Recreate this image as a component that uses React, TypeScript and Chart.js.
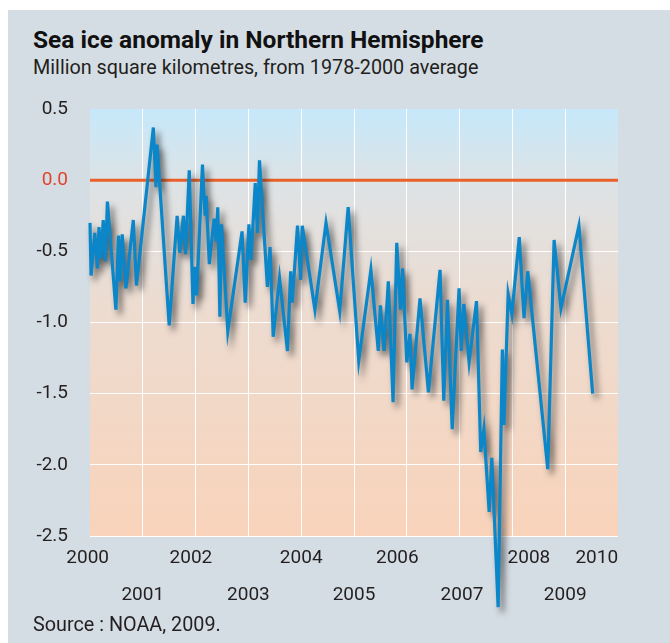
import React, { useEffect, useRef } from 'react';
import { Chart, registerables } from 'chart.js';

Chart.register(...registerables);

// Time of each reading, in decimal years
const years = [
  2000.0, 2000.02, 2000.09, 2000.14, 2000.17, 2000.21, 2000.25, 2000.29, 2000.33, 2000.49,
  2000.54, 2000.57, 2000.61, 2000.68, 2000.82, 2000.88, 2001.2, 2001.25, 2001.27, 2001.5,
  2001.65, 2001.7, 2001.77, 2001.81, 2001.88, 2001.95, 2001.98, 2002.02, 2002.13, 2002.18,
  2002.2, 2002.26, 2002.35, 2002.39, 2002.42, 2002.46, 2002.49, 2002.61, 2002.88, 2002.94,
  2003.01, 2003.05, 2003.13, 2003.17, 2003.21, 2003.36, 2003.41, 2003.47, 2003.59, 2003.74,
  2003.8, 2003.83, 2003.93, 2003.99, 2004.02, 2004.26, 2004.47, 2004.73, 2004.89, 2005.09,
  2005.32, 2005.46, 2005.5, 2005.57, 2005.65, 2005.74, 2005.81, 2005.88, 2005.92, 2006.0,
  2006.06, 2006.1, 2006.25, 2006.41, 2006.63, 2006.7, 2006.77, 2006.86, 2006.99, 2007.03,
  2007.08, 2007.18, 2007.32, 2007.4, 2007.46, 2007.56, 2007.61, 2007.73, 2007.81, 2007.84,
  2007.92, 2007.99, 2008.13, 2008.22, 2008.29, 2008.67, 2008.79, 2008.92, 2009.26, 2009.52,
];

// Sea ice anomaly, million km², vs 1978-2000 average
const anomaly = [
  -0.3, -0.67, -0.37, -0.62, -0.33, -0.55, -0.28, -0.57, -0.15, -0.91,
  -0.39, -0.71, -0.38, -0.76, -0.28, -0.74, 0.37, -0.05, 0.25, -1.02,
  -0.25, -0.51, -0.25, -0.52, 0.07, -0.87, -0.61, -0.81, 0.11, -0.25,
  -0.11, -0.59, -0.27, -0.43, -0.19, -0.96, -0.31, -1.06, -0.36, -0.86,
  -0.31, -0.56, -0.02, -0.37, 0.14, -0.75, -0.47, -1.1, -0.69, -1.2,
  -0.64, -0.86, -0.32, -0.7, -0.32, -0.91, -0.3, -0.92, -0.19, -1.27,
  -0.63, -1.2, -0.88, -1.2, -0.71, -1.56, -0.44, -0.91, -0.62, -1.28,
  -1.08, -1.47, -0.83, -1.49, -0.63, -1.55, -0.84, -1.75, -0.76, -1.2,
  -0.87, -1.28, -0.85, -1.91, -1.75, -2.33, -1.95, -3.0, -1.19, -1.72,
  -0.8, -0.94, -0.4, -0.97, -0.64, -2.03, -0.42, -0.9, -0.32, -1.5,
];

// Reference (1978-2000 average) line
const referenceYears = [2000, 2010];
const referenceValues = [0, 0];

// Axis ranges / ticks
const xRange = [2000, 2010];
const yRange = [-2.5, 0.5];
const yStep = 0.5;

const FONT = 'Roboto, "Noto Sans", "DejaVu Sans", sans-serif';
const BLUE = '#0a86c9';
const ORANGE = '#e8602a';
const TEXT = '#231f20';

// Leading / trailing spaces used to nudge some year labels sideways (layout only)
const labelNudge: Record<number, [number, number]> = {
  2000: [0, 1],
  2002: [0, 2],
  2006: [0, 4],
  2007: [1, 0],
  2008: [7, 0],
  2010: [0, 9],
};

export default function App() {
  const canvasRef = useRef<HTMLCanvasElement>(null);

  useEffect(() => {
    const canvas = canvasRef.current;
    if (!canvas) return;

    const plotBackground = {
      id: 'plotBackground',
      beforeDraw(chart: any) {
        const { ctx, chartArea: a } = chart;
        const g = ctx.createLinearGradient(0, a.top, 0, a.bottom);
        g.addColorStop(0, '#c6e8fa');
        g.addColorStop(0.17, '#dde3e6');
        g.addColorStop(0.45, '#ecdcd1');
        g.addColorStop(1, '#f9d3ba');
        ctx.save();
        ctx.fillStyle = g;
        ctx.fillRect(a.left, a.top, a.right - a.left, a.bottom - a.top);
        ctx.restore();
      },
    };

    const lineShadow = {
      id: 'lineShadow',
      beforeDatasetDraw(chart: any, args: any) {
        if (args.index !== 0) return;
        const ctx = chart.ctx;
        ctx.save();
        ctx.shadowColor = 'rgba(40,40,40,0.7)';
        ctx.shadowBlur = 6;
        ctx.shadowOffsetX = 4;
        ctx.shadowOffsetY = 5;
      },
      afterDatasetDraw(chart: any, args: any) {
        if (args.index !== 0) return;
        chart.ctx.restore();
      },
    };

    const chart = new Chart(canvas, {
      type: 'line',
      data: {
        datasets: [
          {
            data: years.map((x, i) => ({ x, y: anomaly[i] })),
            borderColor: BLUE,
            borderWidth: 3.2,
            pointRadius: 0,
            tension: 0,
            clip: false as any,
            borderJoinStyle: 'miter',
          },
          {
            data: referenceYears.map((x, i) => ({ x, y: referenceValues[i] })),
            borderColor: ORANGE,
            borderWidth: 3,
            pointRadius: 0,
            tension: 0,
          },
        ],
      },
      options: {
        responsive: false,
        animation: false,
        events: [],
        layout: { padding: { left: 0, right: 52, top: 19, bottom: 0 } },
        plugins: {
          legend: { display: false },
          tooltip: { enabled: false },
          title: { display: false },
        },
        scales: {
          x: {
            type: 'linear',
            min: xRange[0],
            max: xRange[1],
            border: { display: false },
            grid: {
              drawTicks: false,
              lineWidth: 1,
              color: (c: any) =>
                c.tick && (c.tick.value === xRange[0] || c.tick.value === xRange[1])
                  ? 'rgba(0,0,0,0)'
                  : '#ffffff',
            },
            ticks: {
              stepSize: 1,
              autoSkip: false,
              maxRotation: 0,
              padding: 4,
              color: TEXT,
              font: { family: FONT, size: 19, lineHeight: '37px' as any },
              callback: (v: any) => {
                const y = Math.round(Number(v));
                const [lead, trail] = labelNudge[y] || [0, 0];
                const text = ' '.repeat(lead) + String(y) + ' '.repeat(trail);
                return y % 2 === 0 ? [text, ''] : ['', text];
              },
            },
            afterFit: (s: any) => {
              s.height = 84;
              s.paddingLeft = 0;
              s.paddingRight = 0;
            },
          },
          y: {
            type: 'linear',
            min: yRange[0],
            max: yRange[1],
            border: { display: false },
            grid: {
              drawTicks: false,
              lineWidth: 1,
              color: (c: any) =>
                c.tick && Math.abs(c.tick.value - yRange[1]) < 1e-9 ? 'rgba(0,0,0,0)' : '#ffffff',
            },
            ticks: {
              stepSize: yStep,
              padding: 22,
              font: { family: FONT, size: 19 },
              color: (c: any) => (c.tick && Math.abs(c.tick.value) < 1e-9 ? '#e0452b' : TEXT),
              callback: (v: any) => Number(v).toFixed(1),
            },
            afterFit: (s: any) => {
              s.width = 82;
              s.paddingTop = 0;
              s.paddingBottom = 0;
            },
          },
        },
      },
      plugins: [plotBackground, lineShadow],
    });

    return () => chart.destroy();
  }, []);

  return (
    <div
      style={{
        position: 'fixed',
        left: 8,
        top: 10,
        right: 0,
        bottom: 0,
        background: '#d5dde4',
        fontFamily: FONT,
        color: TEXT,
        overflow: 'hidden',
      }}
    >
      <div
        style={{
          position: 'absolute',
          left: 25,
          top: 18,
          fontSize: 24.5,
          lineHeight: '24px',
          fontWeight: 700,
          whiteSpace: 'nowrap',
          color: '#111',
        }}
      >
        Sea ice anomaly in Northern Hemisphere
      </div>
      <div
        style={{
          position: 'absolute',
          left: 25,
          top: 48,
          fontSize: 19.8,
          lineHeight: '20px',
          whiteSpace: 'nowrap',
        }}
      >
        Million square kilometres, from 1978-2000 average
      </div>
      <canvas
        ref={canvasRef}
        width={662}
        height={530}
        style={{ position: 'absolute', left: 0, top: 80, width: 662, height: 530 }}
      />
      <div
        style={{
          position: 'absolute',
          left: 25,
          top: 605,
          fontSize: 19.8,
          lineHeight: '20px',
          whiteSpace: 'nowrap',
        }}
      >
        Source : NOAA, 2009.
      </div>
    </div>
  );
}
